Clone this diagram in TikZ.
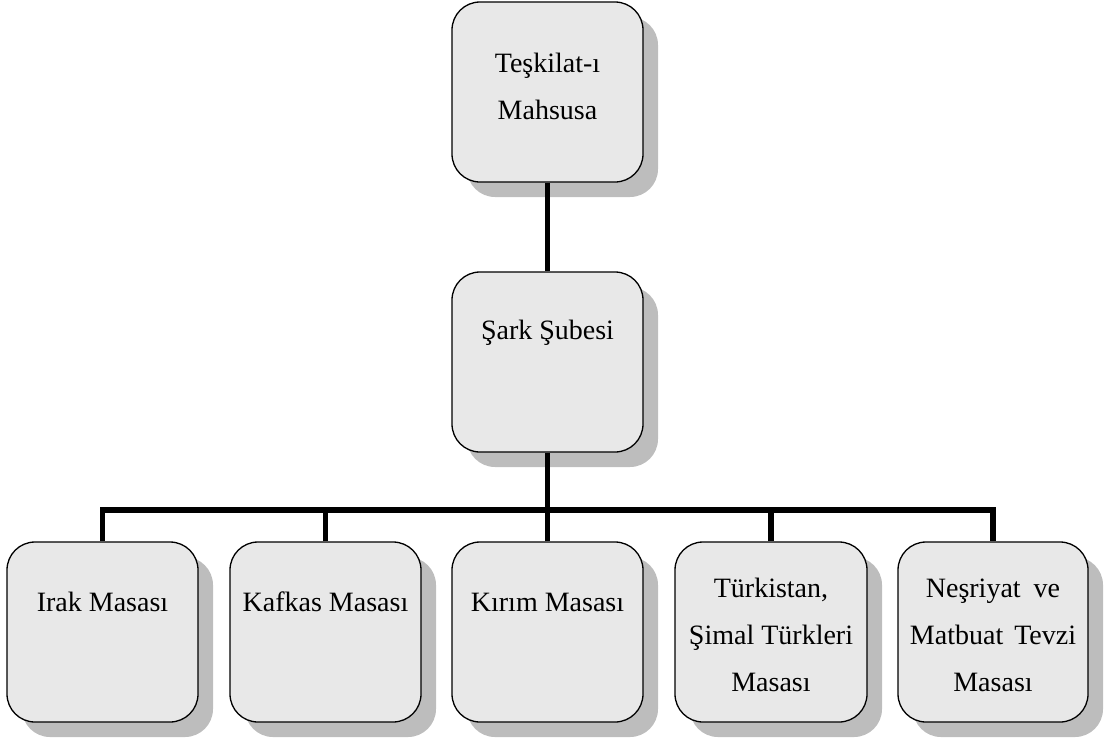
\documentclass[tikz,border=0pt]{standalone}
\usepackage{fontspec}
\setmainfont{Liberation Serif}
\usetikzlibrary{shadows,backgrounds}
\definecolor{boxgray}{HTML}{E8E8E8}
\tikzset{
  box/.style={draw=black, line width=1.3pt, fill=boxgray, rounded corners=28pt,
    minimum width=#1, minimum height=180pt, inner sep=0pt,
    drop shadow={shadow xshift=15pt, shadow yshift=-15pt, opacity=0.26, fill=black}},
  lbl/.style={font=\fontsize{28}{47}\selectfont, align=center, inner sep=0pt},
  conn/.style={line width=5.5pt, draw=black}
}
\begin{document}
\begin{tikzpicture}[x=1pt,y=1pt]
\useasboundingbox (0,0) rectangle (1107,-742);
% boxes
\node[box=191pt] (top) at (547.5,-92) {};
\node[box=191pt] (mid) at (547.5,-362) {};
\node[box=191pt] (irak) at (102.5,-632) {};
\node[box=191pt] (kaf) at (325.5,-632) {};
\node[box=191pt] (kir) at (547.5,-632) {};
\node[box=192pt] (tur) at (771,-632) {};
\node[box=190pt] (nes) at (993,-632) {};
% texts
\node[lbl] (ttop) at (547.5,-86) {Teşkilat-ı\\Mahsusa};
\node[lbl] (tmid) at (547.5,-333) {Şark Şubesi};
\node[lbl] (tirak) at (102.5,-602) {Irak Masası};
\node[lbl] (tkaf) at (325.5,-602) {Kafkas Masası};
\node[lbl] (tkir) at (547.5,-602) {Kırım Masası};
\node[lbl] (ttur) at (771,-635) {Türkistan,\\Şimal Türkleri\\Masası};
\node[lbl] (tnes) at (993,-635) {Neşriyat\hspace{6pt} ve\\Matbuat\hspace{4pt} Tevzi\\Masası};
% connectors
\coordinate (bus) at (547.5,-510);
\begin{scope}[on background layer]
\draw[conn] (top.south) -- (mid.north);
\draw[conn] (mid.south) -- (bus);
\draw[conn] (irak.north) -- (irak.north |- bus) -- (nes.north |- bus) -- (nes.north);
\draw[conn] (kaf.north) -- (kaf.north |- bus);
\draw[conn] (kir.north) -- (kir.north |- bus);
\draw[conn] (tur.north) -- (tur.north |- bus);
\end{scope}
\end{tikzpicture}
\end{document}
